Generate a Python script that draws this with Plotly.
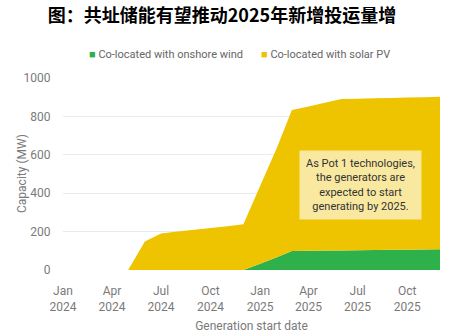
import plotly.graph_objects as go

months = [f"{y}-{m:02d}-01" for y in (2024, 2025) for m in range(1, 13)]
wind = [0, 0, 0, 0, 0, 0, 0, 0, 0, 0, 0, 0,
        33, 66, 99, 100, 101, 102, 103, 104, 105, 106, 107, 108]
solar = [0, 0, 0, 0, 0, 148, 190, 200, 210, 219, 228, 238,
         404, 569, 734, 752, 770, 788, 789, 790, 791, 792, 793, 794]
wind_name = "Co-located with onshore wind"
solar_name = "Co-located with solar PV"
tick_vals = ["2024-01-01", "2024-04-01", "2024-07-01", "2024-10-01",
             "2025-01-01", "2025-04-01", "2025-07-01", "2025-10-01"]
tick_text = ["Jan<br>2024", "Apr<br>2024", "Jul<br>2024", "Oct<br>2024",
             "Jan<br>2025", "Apr<br>2025", "Jul<br>2025", "Oct<br>2025"]

GREEN = "#2eb14b"
YELLOW = "#eec300"
FONT = "Roboto"
GRAY = "#7a7a7a"

fig = go.Figure()
fig.add_trace(go.Scatter(x=months, y=wind, name=wind_name, stackgroup="s",
                         mode="none", fillcolor=GREEN, showlegend=False))
fig.add_trace(go.Scatter(x=months, y=solar, name=solar_name, stackgroup="s",
                         mode="none", fillcolor=YELLOW, showlegend=False))

fig.update_layout(
    width=474, height=335,
    margin=dict(l=63, r=34, t=78, b=65),
    paper_bgcolor="white", plot_bgcolor="white",
    font=dict(family=FONT, size=12, color=GRAY),
    title=dict(text="<b>图：共址储能有望推动2025年新增投运量增</b>",
               x=222 / 474, xanchor="center", y=1 - 16 / 335, yanchor="middle",
               font=dict(family="Noto Sans CJK SC", size=18, color="black")),
    xaxis=dict(range=["2024-01-01", "2025-12-01"], tickvals=tick_vals, ticktext=tick_text,
               showgrid=False, zeroline=False, showline=False, automargin=False,
               ticks="outside", ticklen=10, tickcolor="rgba(0,0,0,0)",
               title=dict(text="Generation start date", standoff=8,
                          font=dict(size=12, color=GRAY))),
    yaxis=dict(range=[0, 1000], tickvals=[0, 200, 400, 600, 800, 1000],
               showgrid=True, gridcolor="#ebebeb", gridwidth=1, zeroline=False,
               automargin=False,
               ticks="outside", ticklen=9, tickcolor="rgba(0,0,0,0)"),
    showlegend=False,
)

# y-axis title
fig.add_annotation(xref="paper", yref="paper", x=-(63 - 22) / 377, y=0.5,
                   xanchor="center", yanchor="middle", showarrow=False, textangle=-90,
                   text="Capacity (MW)", font=dict(family=FONT, size=12, color=GRAY))

# legend drawn as text
fig.add_annotation(xref="paper", yref="paper", x=(87 - 63) / 377, y=1 + (78 - 55) / 192,
                   xanchor="left", yanchor="middle", showarrow=False,
                   text=f'<span style="color:{GREEN}">■</span> {wind_name}',
                   font=dict(family=FONT, size=11, color="#666"))
fig.add_annotation(xref="paper", yref="paper", x=(259 - 63) / 377, y=1 + (78 - 55) / 192,
                   xanchor="left", yanchor="middle", showarrow=False,
                   text=f'<span style="color:{YELLOW}">■</span> {solar_name}',
                   font=dict(family=FONT, size=11, color="#666"))

fig.add_annotation(xref="paper", yref="paper", x=(360 - 63) / 377, y=(270 - 185) / 192,
                   xanchor="center", yanchor="middle", showarrow=False,
                   text="As Pot 1 technologies,<br>the generators are<br>expected to start<br>generating by 2025.",
                   bgcolor="#f8e8a0", borderpad=6,
                   font=dict(family=FONT, size=11, color="#333"))

fig.write_html("out.html")
